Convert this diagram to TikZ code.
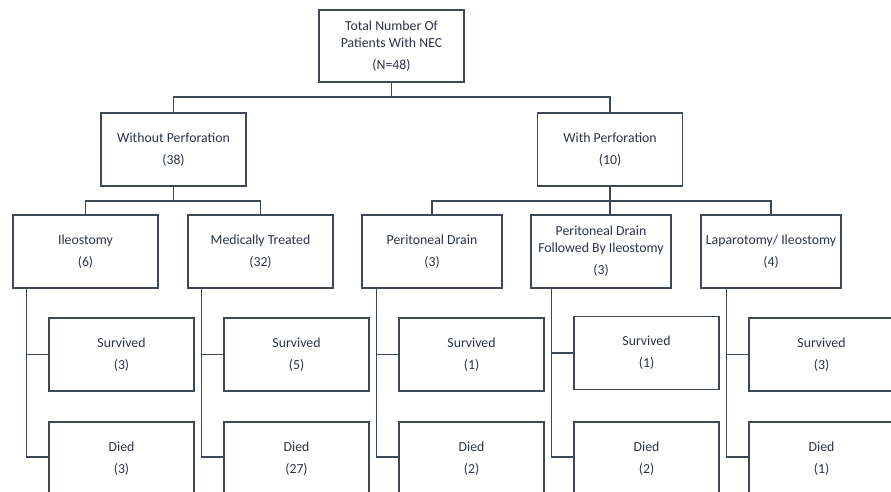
\documentclass[tikz,border=0pt]{standalone}
\usepackage{fontspec}
\setmainfont{Carlito}
\definecolor{edgegray}{HTML}{3E4855}
\definecolor{textnavy}{HTML}{2B3346}
\begin{document}
\begin{tikzpicture}[
    x=1pt, y=-1pt,
    box/.style={rectangle, draw=edgegray, line width=1.1pt, fill=white, minimum width=145pt, minimum height=73pt, inner sep=0pt, align=center, text=textnavy, font=\fontsize{13.8}{17}\selectfont},
    narrowbox/.style={box, minimum width=140pt},
    link/.style={draw=edgegray, line width=1.1pt}
]
\useasboundingbox[clip] (0,0) rectangle (891,491);

% Root
\node[box, minimum height=72pt] (total) at (391.5, 46) {Total Number Of\\Patients With NEC\\[5pt](N=48)};

% Perforation groups
\node[box] (noperf) at (173.5, 149.5) {Without Perforation\\[5pt](38)};
\node[box] (perf)   at (610, 149.5)   {With Perforation\\[5pt](10)};

% Treatments
\node[box]       (ileo)      at (85.5, 251.5)  {Ileostomy\\[5pt](6)};
\node[box]       (medic)     at (260.5, 251.5) {Medically Treated\\[5pt](32)};
\node[narrowbox] (drain)     at (432, 251.5)   {Peritoneal Drain\\[5pt](3)};
\node[narrowbox] (drainileo) at (601, 251.5)   {Peritoneal Drain\\Followed By Ileostomy\\[5pt](3)};
\node[narrowbox] (lapar)     at (771, 251.5)   {Laparotomy/ Ileostomy\\[5pt](4)};

% Outcomes
\node[box] (ileoS)      at (121.5, 354.5) {Survived\\[5pt](3)};
\node[box] (ileoD)      at (121.5, 458.5) {Died\\[5pt](3)};
\node[box] (medicS)     at (296.5, 354.5) {Survived\\[5pt](5)};
\node[box] (medicD)     at (296.5, 458.5) {Died\\[5pt](27)};
\node[box] (drainS)     at (471.5, 354.5) {Survived\\[5pt](1)};
\node[box] (drainD)     at (471.5, 458.5) {Died\\[5pt](2)};
\node[box] (drainileoS) at (646.5, 353)   {Survived\\[5pt](1)};
\node[box] (drainileoD) at (646.5, 458.5) {Died\\[5pt](2)};
\node[box] (laparS)     at (821.5, 354.5) {Survived\\[5pt](3)};
\node[box] (laparD)     at (821.5, 458.5) {Died\\[5pt](1)};

% Bus lines
\coordinate (busA) at (0, 97);
\coordinate (busB) at (0, 201);

\draw[link] (total.south) -- (total.south |- busA) -| (noperf.north);
\draw[link] (total.south |- busA) -| (perf.north);

\draw[link] (noperf.south) -- (noperf.south |- busB) -| (ileo.north);
\draw[link] (noperf.south |- busB) -| (medic.north);

\draw[link] (drain.north) |- (lapar.north |- busB) -- (lapar.north);
\draw[link] (perf.south) -- (perf.south |- drainileo.north);

% Outcome branches
\foreach \grp in {ileo, medic, drain, drainileo, lapar} {
  \draw[link] ([xshift=-22pt]\grp S.west |- \grp.south) |- (\grp S.west);
  \draw[link] ([xshift=-22pt]\grp S.west |- \grp.south) |- ([yshift=1.5pt]\grp D.west);
}

\end{tikzpicture}
\end{document}
